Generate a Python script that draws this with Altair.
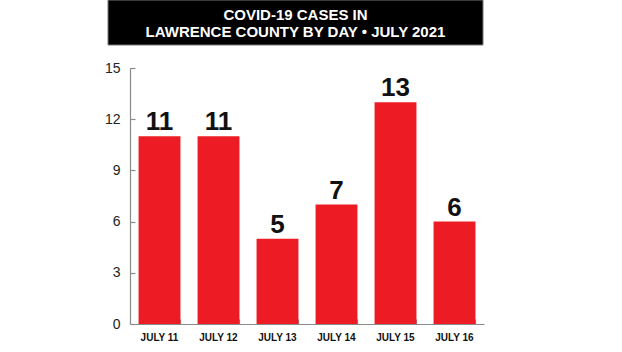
import altair as alt
import pandas as pd

days = ["JULY 11", "JULY 12", "JULY 13", "JULY 14", "JULY 15", "JULY 16"]
cases = [11, 11, 5, 7, 13, 6]
y_ticks = [0, 3, 6, 9, 12, 15]
title_line1 = "COVID-19 CASES IN"
title_line2 = "LAWRENCE COUNTY BY DAY \u2022 JULY 2021"

df = pd.DataFrame({"day": days, "cases": cases})

W, H = 354, 256
GRAY = "#8a8a8a"
RED = "#ED1C24"

xscale = alt.Scale(paddingInner=0.29, paddingOuter=0.145)
yscale = alt.Scale(domain=[0, 15], nice=False)

bars = alt.Chart(df).mark_bar(color=RED).encode(
    x=alt.X("day:N", sort=days, scale=xscale,
            axis=alt.Axis(title=None, labelAngle=0, ticks=False, domain=True,
                          domainColor=GRAY, domainWidth=1.2,
                          labelFont="Liberation Sans", labelFontWeight="bold",
                          labelFontSize=10, labelColor="#111", labelPadding=8)),
    y=alt.Y("cases:Q", scale=yscale,
            axis=alt.Axis(title=None, values=y_ticks, ticks=False, grid=False,
                          domainColor=GRAY, domainWidth=1.2,
                          labelFont="Liberation Sans", labelFontSize=14,
                          labelColor="#222", labelPadding=10)),
)

labels = alt.Chart(df).mark_text(
    font="Liberation Sans", fontWeight="bold", fontSize=26,
    color="#111", baseline="alphabetic", dy=-6,
).encode(
    x=alt.X("day:N", sort=days, scale=xscale,
            axis=alt.Axis(orient="top", offset=-H, labels=False, domain=False,
                          tickBand="extent", tickSize=5, tickColor=GRAY,
                          tickWidth=1.2, title=None)),
    y=alt.Y("cases:Q", scale=yscale,
            axis=alt.Axis(orient="right", offset=-W, labels=False, domain=False,
                          values=y_ticks, tickSize=5, tickColor=GRAY,
                          tickWidth=1.2, grid=False, title=None)),
    text="cases:Q",
)

title_df = pd.DataFrame({"t1": [title_line1], "t2": [title_line2]})
box = alt.Chart(title_df).mark_rect(color="#000", stroke="#777", strokeWidth=1).encode(
    x=alt.value(-22), x2=alt.value(353), y=alt.value(-68), y2=alt.value(-23)
)
title1 = alt.Chart(title_df).mark_text(
    color="#fff", font="Liberation Sans", fontWeight="bold", fontSize=15,
    align="center", baseline="alphabetic",
).encode(x=alt.value(165.5), y=alt.value(-48), text="t1:N")
title2 = alt.Chart(title_df).mark_text(
    color="#fff", font="Liberation Sans", fontWeight="bold", fontSize=15,
    align="center", baseline="alphabetic",
).encode(x=alt.value(165.5), y=alt.value(-31), text="t2:N")

chart = alt.layer(bars, labels, box, title1, title2).resolve_axis(
    x="independent", y="independent"
).properties(
    width=W, height=H,
    autosize=alt.AutoSizeParams(type="none"),
    padding={"left": 130, "top": 68, "right": 138, "bottom": 28},
    background="#ffffff",
).configure_view(stroke=None)

chart.save("out.html", embed_options={"renderer": "svg", "actions": False})
